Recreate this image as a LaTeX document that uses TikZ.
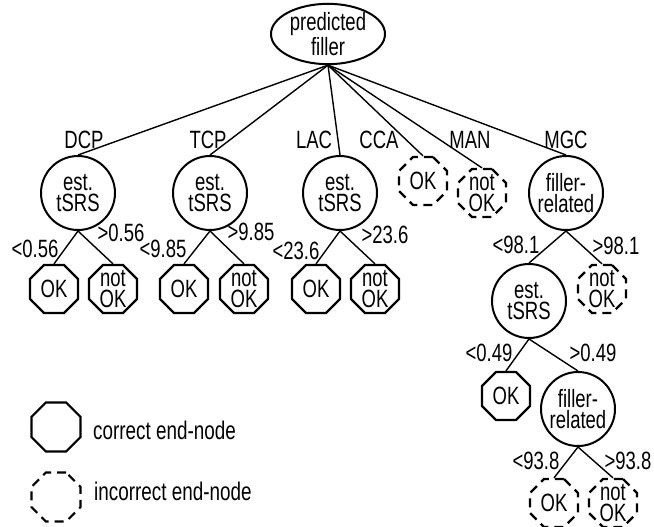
\documentclass[tikz,border=0pt]{standalone}
\usepackage{fontspec}
\setmainfont{Liberation Sans}[FakeStretch=0.74]
\usetikzlibrary{shapes.geometric}

\begin{document}
\begin{tikzpicture}[x=1pt,y=-1pt,
  txt/.style={font=\fontsize{25}{21.5}\selectfont, align=center, inner sep=0pt},
  legtxt/.style={font=\fontsize{25.5}{24}\selectfont, inner sep=0pt},
  rootnode/.style={ellipse, draw, line width=2pt, minimum width=114pt, minimum height=58pt, inner sep=0pt, txt},
  decision/.style={circle, draw, line width=2pt, minimum size=74pt, inner sep=0pt, txt},
  endgood/.style={regular polygon, regular polygon sides=8, draw, line width=2.2pt,
                  minimum size=52pt, inner sep=0pt},
  endbad/.style={endgood, dash pattern=on 9pt off 6pt},
  edge/.style={line width=1.4pt},
]
\useasboundingbox (0,0) rectangle (654,527);

% root
\node[rootnode] (root) at (328,34) {predicted\\filler};

% first level
\node[decision] (dcp) at (78,193) {est.\\tSRS};
\node[decision] (tcp) at (210,193) {est.\\tSRS};
\node[decision] (lac) at (340,193) {est.\\tSRS};
\node[endbad, label={[txt]center:OK}] (cca) at (423,181) {};
\node[endbad, label={[txt]center:{not\\OK}}] (man) at (482,193) {};
\node[decision] (mgc) at (566,193) {filler-\\related};

\draw[edge] (root.south) -- (dcp.north);
\draw[edge] (root.south) -- (tcp.north);
\draw[edge] (root.south) -- (lac.north);
\draw[edge] (root.south) -- (cca.north);
\draw[edge] (root.south) -- (man.north);
\draw[edge] (root.south) -- (mgc.north);

\node[txt, anchor=base] (ldcp) at (84,148) {DCP};
\node[txt, anchor=base] (ltcp) at (208,148) {TCP};
\node[txt, anchor=base] (llac) at (314,148) {LAC};
\node[txt, anchor=base] (lcca) at (379,148) {CCA};
\node[txt, anchor=base] (lman) at (470,148) {MAN};
\node[txt, anchor=base] (lmgc) at (566,148) {MGC};

% DCP branch
\node[endgood, label={[txt]center:OK}] (dok) at (54,289) {};
\node[endgood, label={[txt]center:{not\\OK}}] (dnot) at (113,289) {};
\draw[edge] (dcp.south) -- (dok.north);
\draw[edge] (dcp.south) -- (dnot.north);
\node[txt, anchor=base] (ldok) at (35,257) {<0.56};
\node[txt, anchor=base] (ldnot) at (121,241) {>0.56};

% TCP branch
\node[endgood, label={[txt]center:OK}] (tok) at (184,289) {};
\node[endgood, label={[txt]center:{not\\OK}}] (tnot) at (244,289) {};
\draw[edge] (tcp.south) -- (tok.north);
\draw[edge] (tcp.south) -- (tnot.north);
\node[txt, anchor=base] (ltok) at (163,257) {<9.85};
\node[txt, anchor=base] (ltnot) at (251,240) {>9.85};

% LAC branch
\node[endgood, label={[txt]center:OK}] (lok) at (316,289) {};
\node[endgood, label={[txt]center:{not\\OK}}] (lnot) at (375,289) {};
\draw[edge] (lac.south) -- (lok.north);
\draw[edge] (lac.south) -- (lnot.north);
\node[txt, anchor=base] (llok) at (296,259) {<23.6};
\node[txt, anchor=base] (llnot) at (385,243) {>23.6};

% MGC branch
\node[decision] (m2) at (529,301) {est.\\tSRS};
\node[endbad, label={[txt]center:{not\\OK}}] (mnot) at (602,289) {};
\draw[edge] (mgc.south) -- (m2.north);
\draw[edge] (mgc.south) -- (mnot.north);
\node[txt, anchor=base] (lm2) at (516,253) {<98.1};
\node[txt, anchor=base] (lmnot) at (616,254) {>98.1};

\node[endgood, label={[txt]center:OK}] (m3ok) at (506,396) {};
\node[decision] (m3) at (578,409) {filler-\\related};
\draw[edge] (m2.south) -- (m3ok.north);
\draw[edge] (m2.south) -- (m3.north);
\node[txt, anchor=base] (lm3ok) at (489,361) {<0.49};
\node[txt, anchor=base] (lm3) at (593,361) {>0.49};

\node[endbad, label={[txt]center:OK}] (m4ok) at (554,503) {};
\node[endbad, label={[txt]center:{not\\OK}}] (m4not) at (613,503) {};
\draw[edge] (m3.south) -- (m4ok.north);
\draw[edge] (m3.south) -- (m4not.north);
\node[txt, anchor=base] (lm4ok) at (536,469) {<93.8};
\node[txt, anchor=base] (lm4not) at (628,469) {>93.8};

% legend
\node[endgood, minimum size=53pt] (keygood) at (56,427) {};
\node[legtxt, anchor=base west] (keygoodtxt) at (93,439) {correct end-node};
\node[endbad, minimum size=53pt] (keybad) at (56,497) {};
\node[legtxt, anchor=base west] (keybadtxt) at (94,500) {incorrect end-node};
\end{tikzpicture}
\end{document}
